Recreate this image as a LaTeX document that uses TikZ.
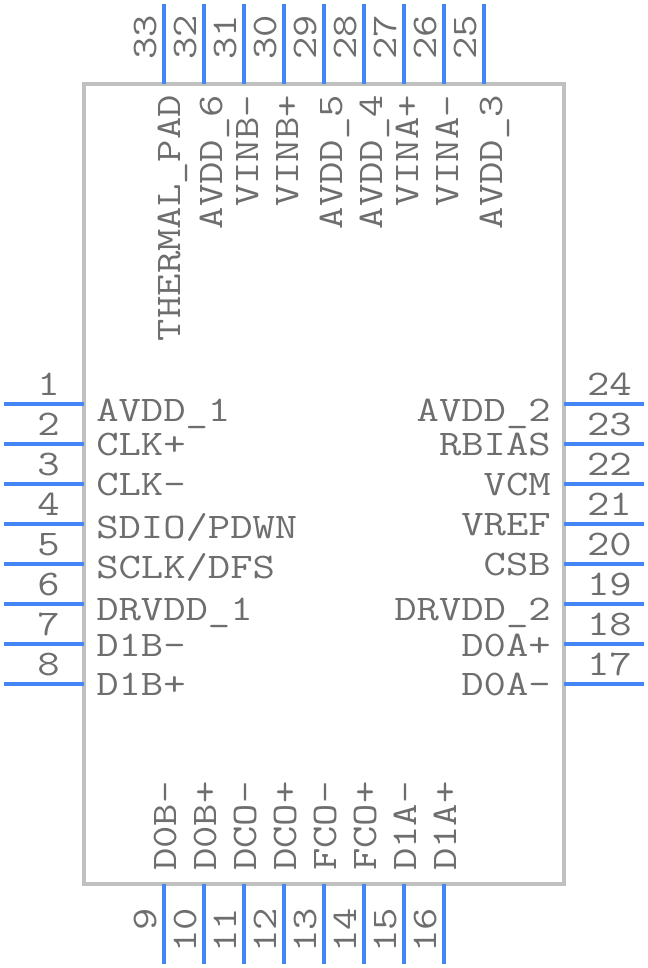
\documentclass[tikz,border=0pt]{standalone}
\usepackage{fontspec}
\setmonofont[FakeStretch=1.205]{Latin Modern Mono}
\definecolor{pinblue}{HTML}{4287F5}
\definecolor{boxgray}{HTML}{C0C0C0}
\definecolor{txtgray}{HTML}{6E6E6E}
\tikzset{
 pinline/.style={draw=pinblue,line width=3pt},
 lab/.style={font=\ttfamily\fontsize{27}{28}\selectfont,text=txtgray,inner sep=0pt},
 num/.style={lab},
}
\begin{document}
\begin{tikzpicture}[x=0.75pt,y=-0.75pt]
\useasboundingbox (0,0) rectangle (648,968);
\node[draw=boxgray,line width=3pt,minimum width=360pt,minimum height=600pt,inner sep=0pt,outer sep=0pt,anchor=north west] (body) at (84,84) {};
\foreach \i/\y in {1/404,2/444,3/484,4/524,5/564,6/604,7/644,8/684}{
 \coordinate (L\i) at (4,\y); \draw[pinline] (L\i) -- (84,\y);
 \node[num,anchor=base east] (nL\i) at (60,\y-9) {\i};
}
\foreach \i/\y in {24/404,23/444,22/484,21/524,20/564,19/604,18/644,17/684}{
 \coordinate (R\i) at (644,\y); \draw[pinline] (R\i) -- (564,\y);
 \node[num,anchor=base east] (nR\i) at (632,\y-9) {\i};
}
\foreach \i/\x in {33/164,32/204,31/244,30/284,29/324,28/364,27/404,26/444,25/484}{
 \coordinate (T\i) at (\x,4); \draw[pinline] (T\i) -- (\x,84);
 \node[num,rotate=90,anchor=base west] (nT\i) at (\x-8,60) {\i};
}
\foreach \i/\x in {9/164,10/204,11/244,12/284,13/324,14/364,15/404,16/444}{
 \coordinate (B\i) at (\x,964); \draw[pinline] (B\i) -- (\x,884);
 \node[num,rotate=90,anchor=base east] (nB\i) at (\x-8,908) {\i};
}
\foreach \t/\y in {{AVDD\_1}/421,{CLK+}/455,{CLK-}/495,{SDIO/PDWN}/538,{SCLK/DFS}/578,{DRVDD\_1}/620,{D1B-}/656,{D1B+}/695}{
 \node[lab,anchor=base west] at (96,\y) {\t};
}
\foreach \t/\y in {{AVDD\_2}/421,{RBIAS}/455,{VCM}/495,{VREF}/535,{CSB}/575,{DRVDD\_2}/620,{D0A+}/656,{D0A-}/695}{
 \node[lab,anchor=base east] at (551,\y) {\t};
}
\foreach \t/\x in {{THERMAL\_PAD}/180,{AVDD\_6}/222,{VINB-}/258,{VINB+}/298,{AVDD\_5}/342,{AVDD\_4}/382,{VINA+}/418,{VINA-}/458,{AVDD\_3}/502}{
 \node[lab,rotate=90,anchor=base east] at (\x,95) {\t};
}
\foreach \t/\x in {{D0B-}/176,{D0B+}/216,{DCO-}/256,{DCO+}/296,{FCO-}/336,{FCO+}/376,{D1A-}/416,{D1A+}/456}{
 \node[lab,rotate=90,anchor=base west] at (\x,871) {\t};
}
\end{tikzpicture}
\end{document}
